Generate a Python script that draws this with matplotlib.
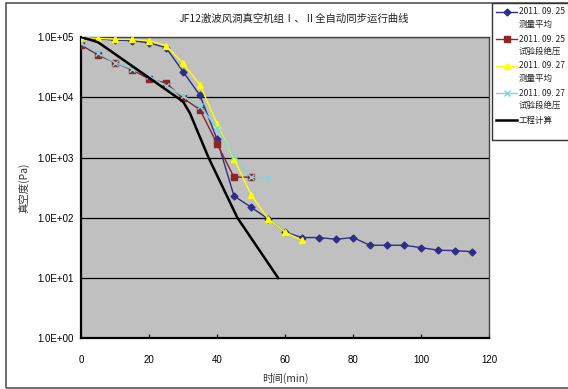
import numpy as np
import matplotlib
matplotlib.use("Agg")
import matplotlib.pyplot as plt
from matplotlib.lines import Line2D
from matplotlib.patches import Rectangle
from matplotlib.ticker import FixedLocator, FuncFormatter, NullLocator

plt.rcParams["font.family"] = ["Liberation Sans", "Noto Sans CJK SC", "DejaVu Sans"]
CJK = ["Noto Sans CJK SC", "DejaVu Sans"]

t_blue = [0, 5, 10, 15, 20, 25, 30, 35, 40, 45, 50, 55, 60, 65, 70, 75, 80, 85, 90, 95, 100, 105, 110, 115]
p_blue = [95000, 93000, 89000, 87000, 80000, 66500, 26700, 10700, 2000, 230, 150, 96, 58, 47,
          47, 44, 47, 35, 35, 35, 32, 29, 28.5, 27.4]

t_red = [0, 5, 10, 15, 20, 25, 30, 35, 40, 45, 50]
p_red = [73800, 50400, 37600, 28500, 20200, 17200, 9700, 6200, 1700, 472, 472]

t_yellow = [0, 5, 10, 15, 20, 25, 30, 35, 40, 45, 50, 55, 60, 65]
p_yellow = [98000, 95000, 92000, 91000, 87000, 72000, 36700, 16100, 3650, 950, 243, 96, 58, 42]

t_cyan = [0, 5, 10, 15, 20, 25, 30, 35, 40, 45, 50, 55]
p_cyan = [80000, 53700, 37600, 29600, 22600, 15500, 10600, 7050, 3100, 1050, 472, 454]

t_calc = [0, 5, 30, 32, 37.5, 46, 58]
p_calc = [100000, 82000, 8500, 5500, 1000, 100, 10]

labels = [("2011. 09. 25", "测量平均"),
          ("2011. 09. 25", "试验段绝压"),
          ("2011. 09. 27", "测量平均"),
          ("2011. 09. 27", "试验段绝压"),
          ("工程计算", None)]

W, H = 568, 389
fig = plt.figure(figsize=(W / 100, H / 100), dpi=100)

# outer chart frame
fig.patches.append(Rectangle((6 / W, 1 - 388 / H), (W + 10) / W, 385 / H, transform=fig.transFigure,
                             fill=False, edgecolor="#555555", lw=1.2, zorder=0))

ax = fig.add_axes([81 / W, 1 - 338.3 / H, (489 - 81) / W, (338.3 - 37) / H])
ax.set_facecolor("#C0C0C0")

styles = [
    dict(color="#2E2E86", marker="D", markersize=3.5, lw=1.0),
    dict(color="#8E2424", marker="s", markersize=4, lw=1.0),
    dict(color="#FFFF00", marker="^", markersize=5, lw=1.0),
    dict(color="#7FD6DC", marker="x", markersize=5, mew=1.0, lw=1.0),
    dict(color="black", lw=1.8),
]

series = [(t_blue, p_blue), (t_red, p_red), (t_yellow, p_yellow), (t_cyan, p_cyan), (t_calc, p_calc)]
for (t, p), st in zip(series, styles):
    ax.plot(t, p, **st, zorder=3)

ax.set_yscale("log")
ax.set_ylim(1, 1e5)
ax.set_xlim(0, 120)
ax.yaxis.set_major_locator(FixedLocator([1, 10, 100, 1000, 1e4, 1e5]))
ax.yaxis.set_minor_locator(NullLocator())
ax.yaxis.set_major_formatter(FuncFormatter(lambda v, pos: "1.0E+%02d" % int(round(np.log10(v)))))
ax.set_xticks(range(0, 121, 20))
ax.tick_params(axis="x", direction="in", length=3, labelsize=7, pad=12)
ax.tick_params(axis="y", length=0, labelsize=7, pad=5)
ax.grid(axis="y", color="black", lw=0.9)
ax.set_axisbelow(True)

for s in ["left", "bottom"]:
    ax.spines[s].set_linewidth(1.6)
    ax.spines[s].set_color("black")
for s in ["top", "right"]:
    ax.spines[s].set_linewidth(1.0)
    ax.spines[s].set_color("#444444")

ax.set_xlabel("时间(min)", fontsize=7.5, family=CJK, color="#333333", labelpad=6)
ax.set_ylabel("真空度(Pa)", fontsize=7.5, family=CJK, color="#333333", labelpad=6)

fig.text(294 / W, 1 - 19 / H, "JF12激波风洞真空机组Ⅰ、Ⅱ全自动同步运行曲线",
         ha="center", va="center", fontsize=7.5, family=CJK, color="#222222")

# legend drawn by hand
fig.patches.append(Rectangle((492 / W, 1 - 140 / H), 100 / W, 137 / H, transform=fig.transFigure,
                             facecolor="white", edgecolor="#333333", lw=1.0, zorder=5))
for i, (st, (l1, l2)) in enumerate(zip(styles, labels)):
    y0 = 1 - (12 + 27 * i) / H
    kw = dict(st)
    mk = kw.pop("marker", None)
    ms = kw.pop("markersize", 0)
    mew = kw.pop("mew", 1.0)
    fig.add_artist(Line2D([496 / W, 517 / W], [y0, y0], transform=fig.transFigure, zorder=6, **kw))
    if mk:
        fig.add_artist(Line2D([506.5 / W], [y0], transform=fig.transFigure, marker=mk, markersize=ms,
                              mew=mew, color=st["color"], lw=0, zorder=7))
    fig.text(519 / W, y0, l1, ha="left", va="center", fontsize=6.1, family=CJK, color="#222222", zorder=7)
    if l2:
        fig.text(519 / W, y0 - 12 / H, l2, ha="left", va="center", fontsize=6.1, family=CJK,
                 color="#222222", zorder=7)

fig.savefig("out.png", dpi=100)
